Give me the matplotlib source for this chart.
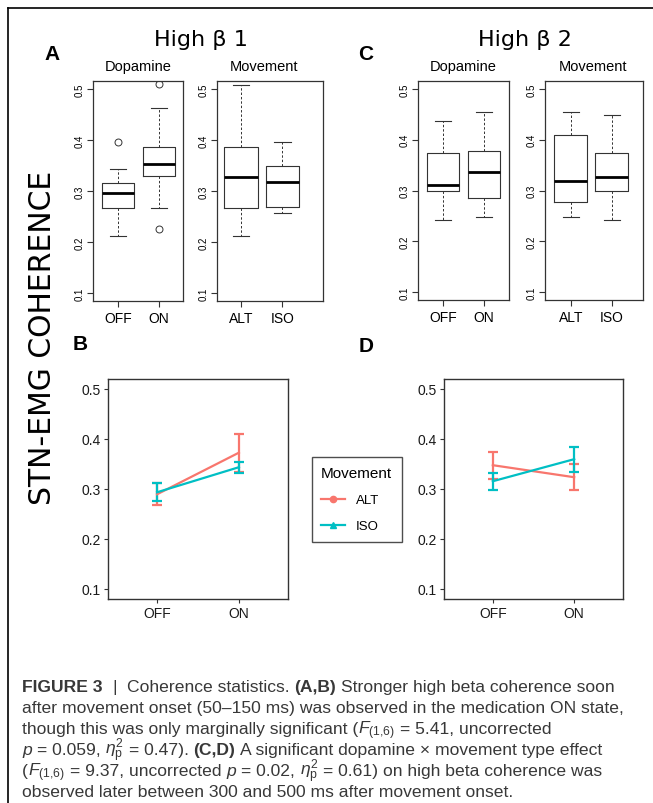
import matplotlib
matplotlib.use("Agg")
import matplotlib.pyplot as plt
from matplotlib.lines import Line2D

plt.rcParams['mathtext.fontset'] = 'custom'
plt.rcParams['mathtext.rm'] = 'Liberation Sans'
plt.rcParams['mathtext.it'] = 'Liberation Sans:italic'
plt.rcParams['mathtext.bf'] = 'Liberation Sans:bold'
plt.rcParams['font.family'] = 'Liberation Sans'

# ---- data ----
dopa_groups = ["OFF", "ON"]
move_groups = ["ALT", "ISO"]
# box stats per group: whisker low, Q1, median, Q3, whisker high
hb1_dopa_box = [[0.212, 0.266, 0.297, 0.315, 0.343], [0.266, 0.330, 0.353, 0.387, 0.463]]
hb1_dopa_fliers = [[0.396], [0.226, 0.510]]
hb1_move_box = [[0.212, 0.266, 0.327, 0.387, 0.508], [0.256, 0.269, 0.318, 0.350, 0.396]]
hb1_move_fliers = [[], []]
hb2_dopa_box = [[0.241, 0.300, 0.310, 0.373, 0.437], [0.248, 0.286, 0.337, 0.378, 0.454]]
hb2_dopa_fliers = [[], []]
hb2_move_box = [[0.248, 0.278, 0.319, 0.409, 0.454], [0.241, 0.300, 0.326, 0.373, 0.449]]
hb2_move_fliers = [[], []]

# interaction plots: means with error bar limits (OFF, ON)
hb1_alt_mean = [0.289, 0.372]
hb1_alt_lo = [0.268, 0.333]
hb1_alt_hi = [0.311, 0.410]
hb1_iso_mean = [0.293, 0.343]
hb1_iso_lo = [0.275, 0.331]
hb1_iso_hi = [0.311, 0.353]
hb2_alt_mean = [0.347, 0.323]
hb2_alt_lo = [0.319, 0.297]
hb2_alt_hi = [0.374, 0.349]
hb2_iso_mean = [0.315, 0.359]
hb2_iso_lo = [0.297, 0.334]
hb2_iso_hi = [0.331, 0.384]

yticks = [0.1, 0.2, 0.3, 0.4, 0.5]
ALT_COL = "#F8766D"
ISO_COL = "#00BFC4"

# caption: pieces per line, (text, style) with style n=normal, b=bold, i=italic, m=math
F16 = r"$F_{(1{,}6)}$"
ETA = r"$\eta^{2}_{\mathrm{p}}$"
cap_lines = [
    [("FIGURE 3", "b"), ("  |  ", "n"), ("Coherence statistics. ", "n"), ("(A,B)", "b"),
     (" Stronger high beta coherence soon", "n")],
    [("after movement onset (50–150 ms) was observed in the medication ON state,", "n")],
    [("though this was only marginally significant (", "n"), (F16, "m"),
     (" = 5.41, uncorrected", "n")],
    [("p", "i"), (" = 0.059, ", "n"), (ETA, "m"), (" = 0.47). ", "n"), ("(C,D)", "b"),
     (" A significant dopamine × movement type effect", "n")],
    [("(", "n"), (F16, "m"), (" = 9.37, uncorrected ", "n"), ("p", "i"), (" = 0.02, ", "n"),
     (ETA, "m"), (" = 0.61) on high beta coherence was", "n")],
    [("observed later between 300 and 500 ms after movement onset.", "n")],
]
cap_base = [692, 713, 734, 755, 776, 797]

W, H = 653, 804
fig = plt.figure(figsize=(6.53, 8.04), dpi=100)


def px_axes(l, r, t, b):
    return fig.add_axes([l / W, 1 - b / H, (r - l) / W, (b - t) / H])


def ftext(x, y, s, **kw):
    return fig.text(x / W, 1 - y / H, s, **kw)


def box_panel(ax, labels, stats, fliers, xlim):
    bx = []
    for lab, s, f in zip(labels, stats, fliers):
        bx.append(dict(label=lab, whislo=s[0], q1=s[1], med=s[2], q3=s[3], whishi=s[4], fliers=f))
    ax.bxp(bx, positions=[1, 2], widths=0.8, capwidths=0.4,
           boxprops=dict(color="#333333", lw=0.8),
           whiskerprops=dict(color="#333333", lw=0.7, ls=(0, (2.5, 2))),
           capprops=dict(color="#333333", lw=0.8),
           medianprops=dict(color="black", lw=2),
           flierprops=dict(marker="o", mfc="none", mec="#333333", ms=5, mew=0.7))
    ax.set_xlim(*xlim)
    ax.set_ylim(0.084, 0.516)
    ax.set_yticks(yticks)
    ax.set_yticklabels([str(v) for v in yticks], rotation=90, va="center", fontsize=7)
    ax.tick_params(axis="y", length=4, pad=2, color="#333333")
    ax.tick_params(axis="x", length=4, pad=3, labelsize=10, color="#333333")
    for sp in ax.spines.values():
        sp.set_color("#333333")
        sp.set_linewidth(0.9)


def interaction_panel(ax, series):
    x = [1, 2]
    for mean, lo, hi, col in series:
        err = [[m - l for m, l in zip(mean, lo)], [h - m for m, h in zip(mean, hi)]]
        ax.errorbar(x, mean, yerr=err, color=col, lw=1.6, elinewidth=1.6,
                    capsize=3.6, capthick=1.6)
    ax.set_xlim(0.4, 2.6)
    ax.set_ylim(0.08, 0.519)
    ax.set_yticks(yticks)
    ax.set_yticklabels([str(v) for v in yticks])
    ax.set_xticks(x)
    ax.set_xticklabels(dopa_groups)
    ax.tick_params(length=3, pad=2, labelsize=10, color="#333333", labelcolor="#1a1a1a")
    for sp in ax.spines.values():
        sp.set_color("#333333")
        sp.set_linewidth(1.0)


# boxplots
box_panel(px_axes(93, 183, 82, 302), dopa_groups, hb1_dopa_box, hb1_dopa_fliers, (0.39, 2.59))
box_panel(px_axes(217, 323, 82, 302), move_groups, hb1_move_box, hb1_move_fliers, (0.42, 2.98))
box_panel(px_axes(418, 509, 82, 301), dopa_groups, hb2_dopa_box, hb2_dopa_fliers, (0.39, 2.61))
box_panel(px_axes(545, 643, 82, 301), move_groups, hb2_move_box, hb2_move_fliers, (0.37, 2.76))

# interaction plots
interaction_panel(px_axes(108, 288, 380, 600),
                  [(hb1_alt_mean, hb1_alt_lo, hb1_alt_hi, ALT_COL),
                   (hb1_iso_mean, hb1_iso_lo, hb1_iso_hi, ISO_COL)])
interaction_panel(px_axes(444, 623, 380, 600),
                  [(hb2_alt_mean, hb2_alt_lo, hb2_alt_hi, ALT_COL),
                   (hb2_iso_mean, hb2_iso_lo, hb2_iso_hi, ISO_COL)])

handles = [Line2D([], [], color=ALT_COL, lw=1.6, marker="o", ms=4.5),
           Line2D([], [], color=ISO_COL, lw=1.6, marker="^", ms=5)]
leg = fig.legend(handles, move_groups, title="Movement", loc="upper left",
                 bbox_to_anchor=(312 / W, 1 - 458 / H), borderaxespad=0,
                 fontsize=9.5, title_fontsize=11,
                 frameon=True, fancybox=False, edgecolor="#222222", handlelength=1.8,
                 borderpad=0.7, labelspacing=1.05)
leg.get_frame().set_linewidth(1.0)
leg._legend_box.align = "left"

# titles and labels
ftext(201, 40, "High β 1", family="DejaVu Sans", fontsize=16, ha="center", va="center")
ftext(525, 40, "High β 2", family="DejaVu Sans", fontsize=16, ha="center", va="center")
for x, y, s in [(52, 54, "A"), (366, 55, "C"), (80, 345, "B"), (366, 347, "D")]:
    ftext(x, y, s, fontsize=15, fontweight="bold", ha="center", va="center")
for x, s in [(138, "Dopamine"), (264, "Movement"), (463, "Dopamine"), (593, "Movement")]:
    ftext(x, 67, s, fontsize=10.5, ha="center", va="center")
ftext(43, 338, "STN-EMG COHERENCE", family="DejaVu Sans", fontsize=21.5,
      rotation=90, ha="center", va="center")

# caption, laid out piece by piece so sub/superscripts stay local
renderer = fig.canvas.get_renderer()
CAP_FS = 12.6
CAP_COL = "#383838"


def style_kw(st):
    kw = dict(fontsize=CAP_FS, color=CAP_COL, va="baseline", ha="left")
    if st == "b":
        kw["fontweight"] = "bold"
    if st == "i":
        kw["style"] = "italic"
    return kw


def text_w(s, st):
    t = fig.text(0, 0, s, **style_kw(st))
    w = t.get_window_extent(renderer).width
    t.remove()
    return w


space_w = text_w("a a", "n") - text_w("aa", "n")
for pieces, yb in zip(cap_lines, cap_base):
    x = 22
    for s, st in pieces:
        core = s.strip(" ")
        lead = len(s) - len(s.lstrip(" "))
        trail = len(s) - len(s.rstrip(" "))
        x += lead * space_w
        ftext(x, yb, core, **style_kw(st))
        x += text_w(core, st) + trail * space_w

# frame lines
fig.add_artist(Line2D([8 / W, 1], [1 - 9 / H, 1 - 9 / H], color="black", lw=1.2))
fig.add_artist(Line2D([8 / W, 8 / W], [1 - 9 / H, 0], color="black", lw=1.2))

fig.savefig("out.png", dpi=100)
